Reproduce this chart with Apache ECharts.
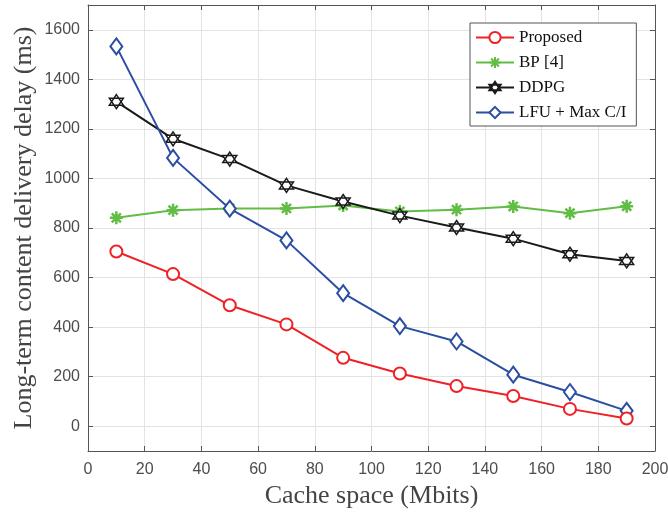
<!DOCTYPE html>
<html>
<head>
<meta charset="utf-8">
<script src="https://cdn.jsdelivr.net/npm/echarts@6/dist/echarts.min.js"></script>
<style>
    html, body { margin: 0; padding: 0; background: #fff; }
    #chart { width: 668px; height: 514px; }
</style>
</head>
<body>
<div id="chart"></div>
<script>
    // cache space (Mbits)
    var cacheSpace = [10, 30, 50, 70, 90, 110, 130, 150, 170, 190];
    var proposed = [705, 614, 488, 411, 276, 213, 162, 122, 70, 31];
    var bp4 = [841, 872, 879, 879, 891, 867, 874, 887, 860, 888];
    var ddpg = [1310, 1160, 1078, 972, 907, 850, 802, 757, 694, 667];
    var lfuMaxCI = [1533, 1083, 878, 750, 537, 404, 342, 208, 138, 62];
    var seriesNames = ['Proposed', 'BP [4]', 'DDPG', 'LFU + Max C/I'];

    function pairs (ys) {
        return cacheSpace.map(function (x, i) { return [x, ys[i]]; });
    }

    var asterisk = 'path://M0 10 L20 10 M10 0 L10 20 M3 3 L17 17 M3 17 L17 3';
    var hexagram = 'path://M10 0 L18.66 15 L1.34 15 Z M10 20 L1.34 5 L18.66 5 Z';

    var chart = echarts.init(document.getElementById('chart'));
    var tickFont = { fontFamily: 'Liberation Sans', fontSize: 16, color: '#4d4d4d' };
    var axisLine = { show: true, onZero: false, lineStyle: { color: '#555', width: 1 } };
    var axisTick = { show: true, inside: true, length: 5, lineStyle: { color: '#555' } };
    var gridLine = { show: true, lineStyle: { color: '#e3e3e3', width: 1 } };

    var option = {
        animation: false,
        backgroundColor: '#fff',
        grid: { left: 88, right: 13, top: 5, bottom: 63, outerBoundsMode: 'none' },
        legend: {
            data: seriesNames,
            orient: 'vertical',
            left: 470,
            top: 23,
            padding: [6, 10, 5, 5],
            itemWidth: 38,
            itemHeight: 14,
            itemGap: 8,
            backgroundColor: '#fff',
            borderColor: '#555',
            borderWidth: 1,
            textStyle: { fontFamily: 'Liberation Serif', fontSize: 17, color: '#111' }
        },
        xAxis: [{
            type: 'value',
            min: 0,
            max: 200,
            interval: 20,
            name: 'Cache space (Mbits)',
            nameLocation: 'middle',
            nameGap: 32,
            nameMoveOverlap: false,
            nameTextStyle: { fontFamily: 'Liberation Serif', fontSize: 26, color: '#444' },
            axisLine: axisLine,
            axisTick: axisTick,
            axisLabel: Object.assign({ margin: 11 }, tickFont),
            splitLine: gridLine
        }, {
            type: 'value',
            position: 'top',
            min: 0,
            max: 200,
            interval: 20,
            axisLine: axisLine,
            axisTick: axisTick,
            axisLabel: { show: false },
            splitLine: { show: false }
        }],
        yAxis: [{
            type: 'value',
            min: -100,
            max: 1700,
            splitNumber: 9,
            name: 'Long-term content delivery delay (ms)',
            nameLocation: 'middle',
            nameGap: 51,
            nameMoveOverlap: false,
            nameTextStyle: { fontFamily: 'Liberation Serif', fontSize: 26, color: '#444' },
            axisLine: axisLine,
            axisTick: axisTick,
            axisLabel: Object.assign({
                margin: 8, showMinLabel: false, showMaxLabel: false,
                formatter: function (v) { return String(v); }
            }, tickFont),
            splitLine: gridLine
        }, {
            type: 'value',
            position: 'right',
            min: -100,
            max: 1700,
            splitNumber: 9,
            axisLine: axisLine,
            axisTick: axisTick,
            axisLabel: { show: false },
            splitLine: { show: false }
        }],
        series: [{
            name: 'Proposed',
            type: 'line',
            data: pairs(proposed),
            symbol: 'emptyCircle',
            symbolSize: 12,
            color: '#ee2226',
            lineStyle: { width: 2, color: '#ee2226' },
            itemStyle: { color: '#ee2226', borderColor: '#ee2226', borderWidth: 2 },
            z: 5
        }, {
            name: 'BP [4]',
            type: 'line',
            data: pairs(bp4),
            symbol: asterisk,
            symbolSize: 13,
            color: '#62bd45',
            lineStyle: { width: 2, color: '#62bd45' },
            itemStyle: { color: 'transparent', borderColor: '#62bd45', borderWidth: 2.5 },
            z: 2
        }, {
            name: 'DDPG',
            type: 'line',
            data: pairs(ddpg),
            symbol: hexagram,
            symbolSize: 14,
            color: '#1a1a1a',
            lineStyle: { width: 2, color: '#1a1a1a' },
            itemStyle: { color: '#fff', borderColor: '#1a1a1a', borderWidth: 1.5 },
            z: 3
        }, {
            name: 'LFU + Max C/I',
            type: 'line',
            data: pairs(lfuMaxCI),
            symbol: 'emptyDiamond',
            symbolSize: [12, 16],
            color: '#2c4ea2',
            lineStyle: { width: 2, color: '#2c4ea2' },
            itemStyle: { color: '#2c4ea2', borderColor: '#2c4ea2', borderWidth: 2 },
            z: 4
        }]
    };
    chart.setOption(option);
</script>
</body>
</html>
